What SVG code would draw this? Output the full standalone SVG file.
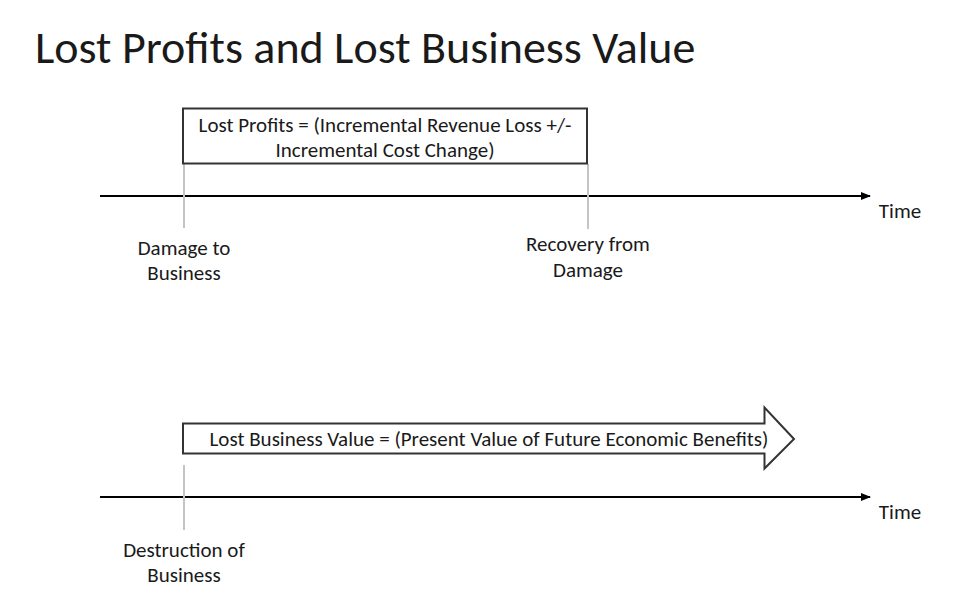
<svg xmlns="http://www.w3.org/2000/svg" width="975" height="606" viewBox="0 0 975 606">
<defs>
<style>
text{font-family:Carlito,Lato,"Liberation Sans",sans-serif;fill:#1a1a1a}
.t{font-size:21px;text-anchor:middle}
.title{font-size:46px}
.axis{stroke:#000;stroke-width:2;fill:none}
.tick{stroke:#c4c4c4;stroke-width:2;fill:none}
.box{fill:#fff;stroke:#333;stroke-width:2}
</style>
<marker id="ah" viewBox="0 0 10 10" refX="9" refY="5" markerWidth="5" markerHeight="5" orient="auto" markerUnits="strokeWidth">
<path d="M0,1 L10,5 L0,9 z" fill="#000"/>
</marker>
</defs>
<rect width="975" height="606" fill="#fff"/>
<text class="title" x="35" y="63">Lost Profits and Lost Business Value</text>
<g id="connectors">
<line class="axis" x1="100" y1="196" x2="870" y2="196" marker-end="url(#ah)"/>
<line class="axis" x1="100" y1="497" x2="870" y2="497" marker-end="url(#ah)"/>
<line class="tick" x1="184" y1="164" x2="184" y2="228"/>
<line class="tick" x1="588" y1="164" x2="588" y2="229"/>
<line class="tick" x1="184" y1="465" x2="184" y2="530"/>
</g>
<g id="lost-profits">
<rect class="box" x="183" y="108.5" width="404" height="55"/>
<text class="t" x="385" y="132">Lost Profits = (Incremental Revenue Loss +/-</text>
<text class="t" x="385" y="157">Incremental Cost Change)</text>
</g>
<g id="time1"><text class="t" x="900" y="218">Time</text></g>
<g id="damage"><text class="t" x="184" y="255">Damage to</text><text class="t" x="184" y="280">Business</text></g>
<g id="recovery"><text class="t" x="588" y="251">Recovery from</text><text class="t" x="588" y="277">Damage</text></g>
<g id="lost-value">
<path class="box" d="M183,423.5 H764.5 V407.5 L794,439 L764.5,468.5 V453.5 H183 Z"/>
<text class="t" x="489" y="446">Lost Business Value = (Present Value of Future Economic Benefits)</text>
</g>
<g id="time2"><text class="t" x="900" y="519">Time</text></g>
<g id="destruction"><text class="t" x="184" y="557">Destruction of</text><text class="t" x="184" y="582">Business</text></g>
</svg>
